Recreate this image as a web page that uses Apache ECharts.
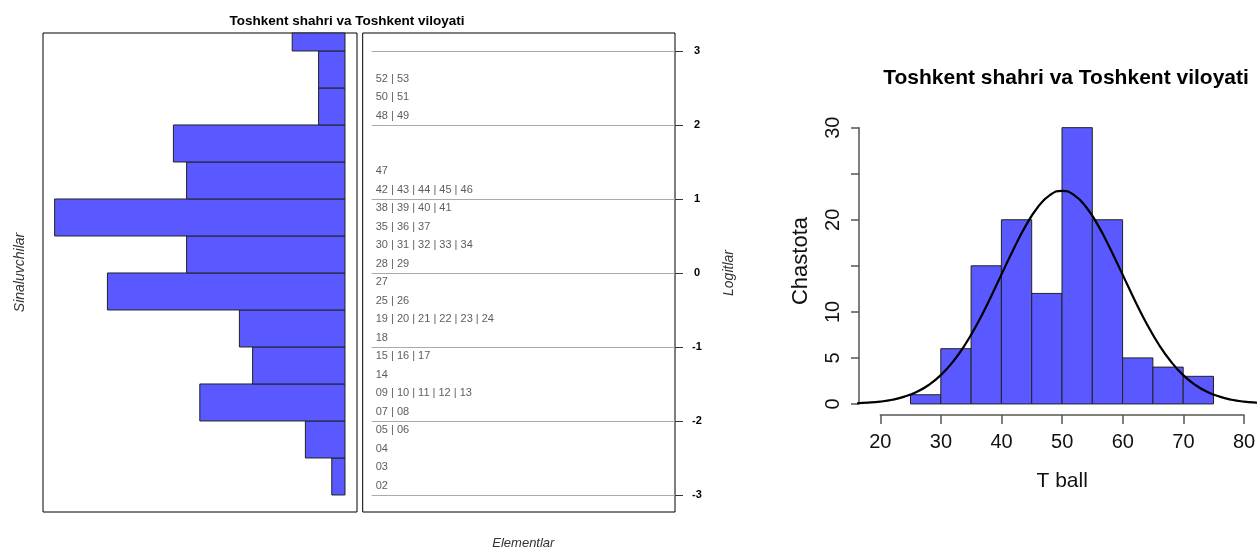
<!DOCTYPE html>
<html>
<head>
<meta charset="utf-8">
<script src="https://cdn.jsdelivr.net/npm/echarts@6/dist/echarts.min.js"></script>
<style>
html,body{margin:0;padding:0;background:#fff;}
#chart{width:1257px;height:548px;}
</style>
</head>
<body>
<div id="chart"></div>
<script>
// ---- Wright map data (left) ----
const personBinLo = [-3, -2.5, -2, -1.5, -1, -0.5, 0, 0.5, 1, 1.5, 2, 2.5, 3];
const personBinHi = [-2.5, -2, -1.5, -1, -0.5, 0, 0.5, 1, 1.5, 2, 2.5, 3, 3.5];
const personCounts = [1, 3, 11, 7, 8, 18, 12, 22, 12, 13, 2, 2, 4];

const itemLabels = ['02', '03', '04', '05 | 06', '07 | 08', '09 | 10 | 11 | 12 | 13', '14',
  '15 | 16 | 17', '18', '19 | 20 | 21 | 22 | 23 | 24', '25 | 26', '27', '28 | 29',
  '30 | 31 | 32 | 33 | 34', '35 | 36 | 37', '38 | 39 | 40 | 41', '42 | 43 | 44 | 45 | 46',
  '47', '48 | 49', '50 | 51', '52 | 53'];
const itemLogits = [-2.875, -2.625, -2.375, -2.125, -1.875, -1.625, -1.375, -1.125, -0.875,
  -0.625, -0.375, -0.125, 0.125, 0.375, 0.625, 0.875, 1.125, 1.375, 2.125, 2.375, 2.625];

// ---- T ball histogram data (right) ----
const tBinLo = [25, 30, 35, 40, 45, 50, 55, 60, 65, 70];
const tBinHi = [30, 35, 40, 45, 50, 55, 60, 65, 70, 75];
const tCounts = [1, 6, 15, 20, 12, 30, 20, 5, 4, 3];
const curveX = [16, 18, 20, 22, 24, 26, 28, 30, 32, 34, 36, 38, 40, 42, 44, 46, 48, 50,
  52, 54, 56, 58, 60, 62, 64, 66, 68, 70, 72, 74, 76, 78, 80, 82, 84];
const curveY = [0.07, 0.14, 0.26, 0.46, 0.79, 1.30, 2.06, 3.13, 4.58, 6.43, 8.69, 11.27, 14.04,
  16.80, 19.33, 21.36, 22.68, 23.14, 22.68, 21.36, 19.33, 16.80, 14.04, 11.27, 8.69, 6.43,
  4.58, 3.13, 2.06, 1.30, 0.79, 0.46, 0.26, 0.14, 0.07];
const yTickLabelsShown = [0, 5, 10, 20, 30];

const FONT = 'Liberation Sans, Arial, sans-serif';
const chart = echarts.init(document.getElementById('chart'), null, {renderer: 'canvas'});

function rectItem(params, api, horizontal) {
  let a, b;
  if (horizontal) {
    a = api.coord([0, api.value(0)]);
    b = api.coord([api.value(2), api.value(1)]);
  } else {
    a = api.coord([api.value(0), 0]);
    b = api.coord([api.value(1), api.value(2)]);
  }
  const cs = params.coordSys;
  const shape = echarts.graphic.clipRectByRect({
    x: Math.min(a[0], b[0]), y: Math.min(a[1], b[1]),
    width: Math.abs(a[0] - b[0]), height: Math.abs(a[1] - b[1])
  }, {x: cs.x, y: cs.y, width: cs.width, height: cs.height});
  if (!shape) return;
  return {type: 'rect', shape: shape, style: {fill: '#5959ff', stroke: '#222', lineWidth: 1}};
}

const G = {outerBoundsMode: 'none', containLabel: false};

const option = {
  backgroundColor: '#fff',
  animation: false,
  graphic: [
    {type: 'text', x: 347, y: 21, style: {text: 'Toshkent shahri va Toshkent viloyati', textAlign: 'center', textVerticalAlign: 'middle', font: 'bold 13.5px ' + FONT, fill: '#000'}},
    {type: 'text', x: 1066, y: 78, style: {text: 'Toshkent shahri va Toshkent viloyati', textAlign: 'center', textVerticalAlign: 'middle', font: 'bold 21px ' + FONT, fill: '#000'}},
    {type: 'text', x: 800.5, y: 261, rotation: Math.PI / 2, style: {text: 'Chastota', textAlign: 'center', textVerticalAlign: 'middle', font: '22px ' + FONT, fill: '#111'}}
  ],
  grid: [
    Object.assign({left: 43, top: 33, width: 314, height: 479, show: true, borderColor: '#000', borderWidth: 1, backgroundColor: 'transparent'}, G),
    Object.assign({left: 362.7, top: 33, width: 312.3, height: 479, show: true, borderColor: '#000', borderWidth: 1, backgroundColor: 'transparent'}, G),
    Object.assign({left: 371.7, top: 51, width: 303.3, height: 444}, G),
    Object.assign({left: 859, top: 116.6, width: 406, height: 298.4}, G),
    Object.assign({left: 880.3, top: 116.6, width: 363.7, height: 298.4}, G),
    Object.assign({left: 859, top: 127.7, width: 10, height: 276.3}, G)
  ],
  xAxis: [
    {gridIndex: 0, type: 'value', inverse: true, min: -0.91, max: 22.88, show: false},
    {gridIndex: 1, type: 'value', min: 0, max: 1, show: false},
    {gridIndex: 2, type: 'value', min: 0, max: 1, axisLine: {show: false, onZero: false}, axisTick: {show: false}, axisLabel: {show: false}, splitLine: {show: false},
      name: 'Elementlar', nameLocation: 'middle', nameGap: 42, nameTextStyle: {fontFamily: FONT, fontStyle: 'italic', fontSize: 13, color: '#333'}},
    {gridIndex: 3, type: 'value', min: 16.5, max: 83.5, show: false},
    {gridIndex: 4, type: 'value', min: 20, max: 80, interval: 10,
      axisLine: {onZero: false, lineStyle: {color: '#555', width: 1.5}}, axisTick: {length: 9, lineStyle: {color: '#555', width: 1.5}},
      axisLabel: {margin: 17, fontFamily: FONT, fontSize: 20, color: '#111', showMinLabel: true, showMaxLabel: true}, splitLine: {show: false},
      name: 'T ball', nameLocation: 'middle', nameGap: 56, nameTextStyle: {fontFamily: FONT, fontSize: 21, color: '#111'}},
    {gridIndex: 5, type: 'value', min: 0, max: 1, show: false}
  ],
  yAxis: [
    {gridIndex: 0, type: 'value', min: -3.23, max: 3.243, axisLine: {show: false, onZero: false}, axisTick: {show: false}, axisLabel: {show: false}, splitLine: {show: false},
      name: 'Sinaluvchilar', nameLocation: 'middle', nameRotate: 90, nameGap: 16, nameTextStyle: {fontFamily: FONT, fontStyle: 'italic', fontSize: 14, color: '#333'}},
    {gridIndex: 1, type: 'value', min: 0, max: 1, show: false},
    {gridIndex: 2, type: 'value', position: 'right', min: -3, max: 3, interval: 1,
      axisLine: {show: false, onZero: false}, axisTick: {show: true, length: 8, lineStyle: {color: '#333'}},
      axisLabel: {margin: 22, align: 'center', fontFamily: FONT, fontSize: 11, fontWeight: 'bold', color: '#000'},
      splitLine: {show: true, lineStyle: {color: '#aaa', width: 1}},
      name: 'Logitlar', nameLocation: 'middle', nameRotate: 90, nameGap: 47, nameTextStyle: {fontFamily: FONT, fontStyle: 'italic', fontSize: 14, color: '#333'}},
    {gridIndex: 3, type: 'value', min: -1.2, max: 31.2, show: false},
    {gridIndex: 4, type: 'value', min: 0, max: 1, show: false},
    {gridIndex: 5, type: 'value', min: 0, max: 30, interval: 5,
      axisLine: {show: true, onZero: false, lineStyle: {color: '#555', width: 1.5}}, axisTick: {show: true, length: 8, lineStyle: {color: '#555', width: 1.5}},
      axisLabel: {rotate: 90, margin: 16, fontFamily: FONT, fontSize: 20, color: '#111',
        formatter: function (v) { return yTickLabelsShown.indexOf(v) >= 0 ? String(v) : ''; }},
      splitLine: {show: false}}
  ],
  series: [
    {type: 'custom', xAxisIndex: 0, yAxisIndex: 0,
      data: personBinLo.map((lo, i) => [lo, personBinHi[i], personCounts[i]]),
      encode: {x: 2, y: [0, 1]},
      renderItem: (params, api) => rectItem(params, api, true)},
    {type: 'scatter', xAxisIndex: 2, yAxisIndex: 2, symbolSize: 0.01, silent: true,
      data: itemLabels.map((t, i) => ({value: [0, itemLogits[i]], name: t})),
      label: {show: true, position: 'right', distance: 4, formatter: (p) => p.name, fontFamily: FONT, fontSize: 11, color: '#333'}},
    {type: 'custom', xAxisIndex: 3, yAxisIndex: 3,
      data: tBinLo.map((lo, i) => [lo, tBinHi[i], tCounts[i]]),
      encode: {x: [0, 1], y: 2},
      renderItem: (params, api) => rectItem(params, api, false)},
    {type: 'line', xAxisIndex: 3, yAxisIndex: 3, smooth: true, showSymbol: false, symbol: 'none', clip: true,
      data: curveX.map((x, i) => [x, curveY[i]]),
      lineStyle: {color: '#000', width: 2.2}}
  ]
};
chart.setOption(option);
</script>
</body>
</html>
